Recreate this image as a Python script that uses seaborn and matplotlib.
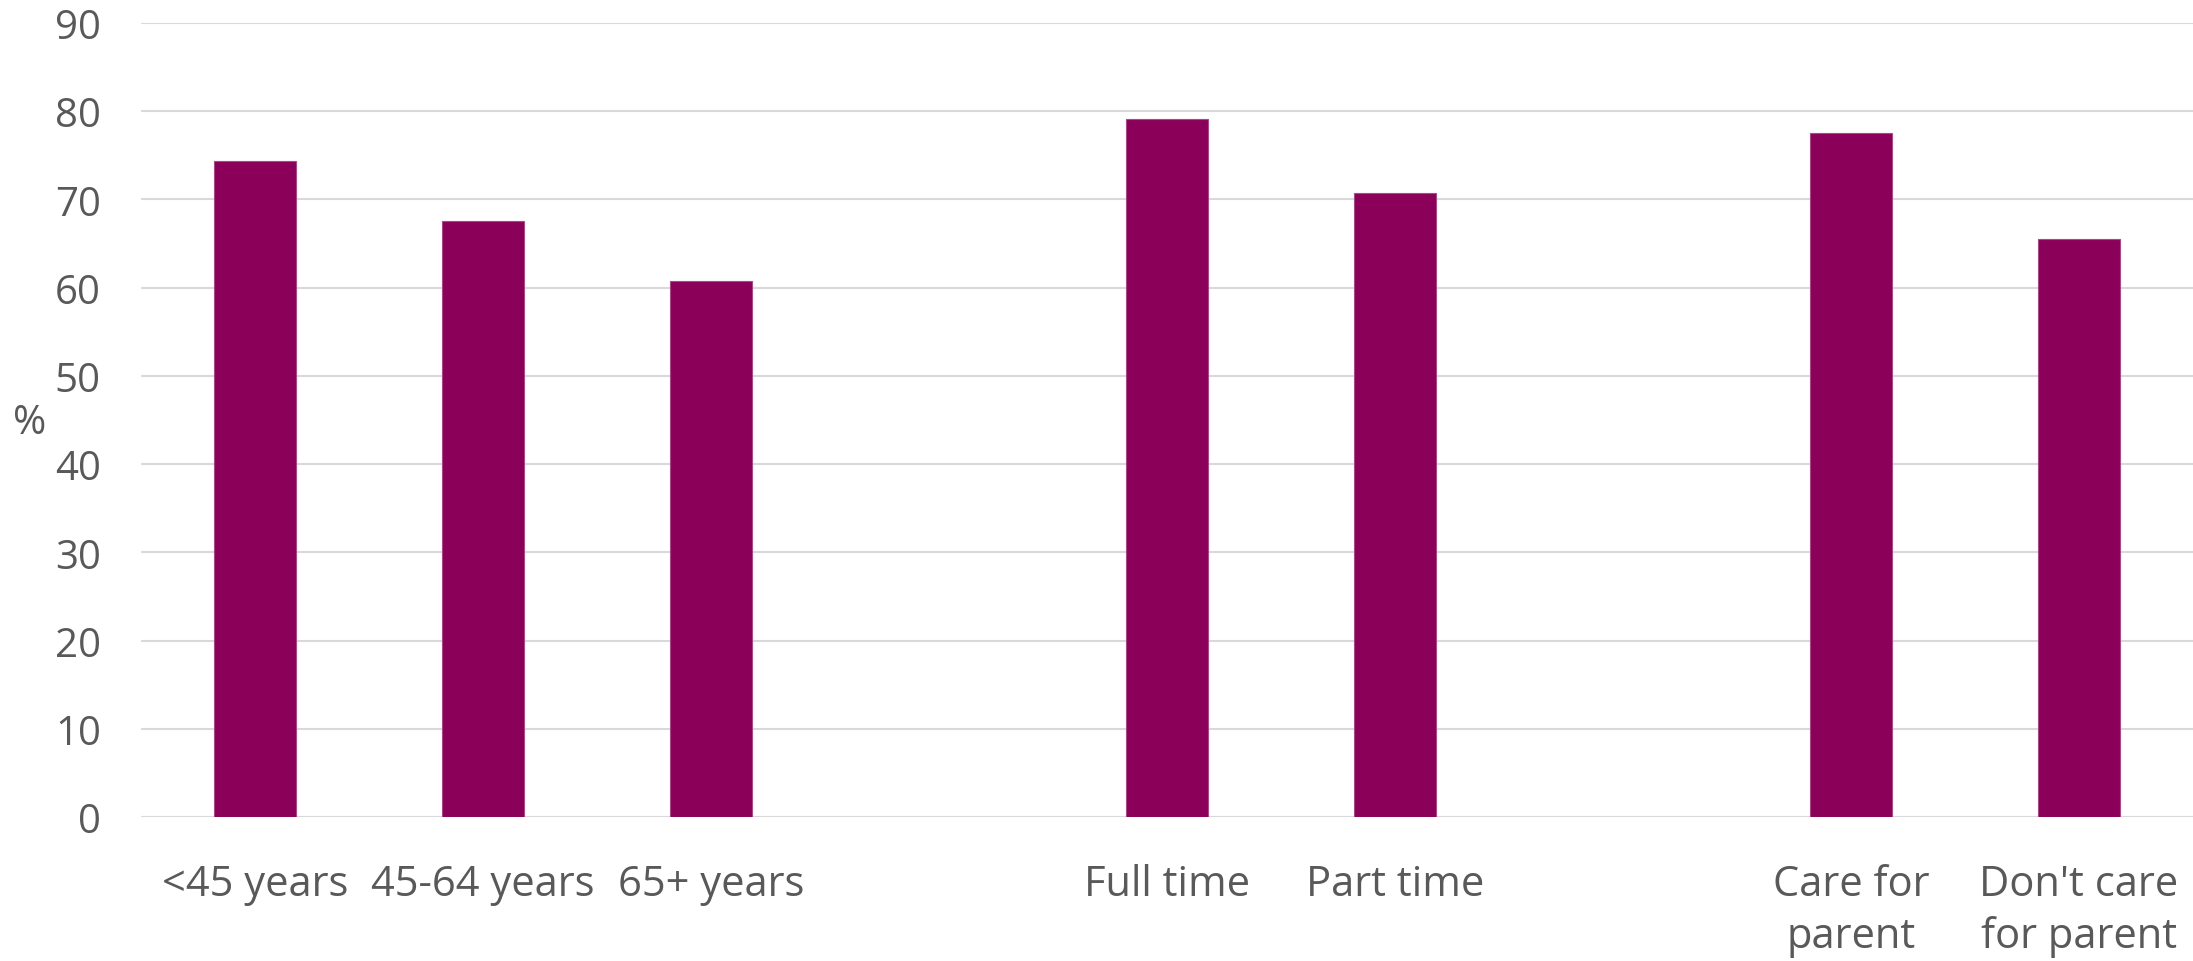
import matplotlib
matplotlib.use("Agg")
import matplotlib.pyplot as plt
import seaborn as sns
import pandas as pd

# Share (%) by respondent group
categories = ["<45 years", "45-64 years", "65+ years",
              "Full time", "Part time",
              "Care for\nparent", "Don't care\nfor parent"]
values = [74.4, 67.6, 60.8, 79.1, 70.7, 77.5, 65.5]

# Slot order, with blank slots separating the three groups
order = ["<45 years", "45-64 years", "65+ years", " ",
         "Full time", "Part time", "  ",
         "Care for\nparent", "Don't care\nfor parent"]
y_ticks = list(range(0, 91, 10))

df = pd.DataFrame({"group": categories, "pct": values})

sns.set_theme(style="white")
plt.rcParams["font.family"] = ["Open Sans", "DejaVu Sans"]

fig = plt.figure(figsize=(21.93, 9.62), dpi=100)
ax = fig.add_axes([141 / 2193, 1 - 818 / 962, 1 - 141 / 2193, (818 - 24) / 962])

bar_color = "#8B0059"
sns.barplot(data=df, x="group", y="pct", order=order, color=bar_color,
            width=0.356, saturation=1, edgecolor="#A8478A", linewidth=0.8, ax=ax)

ax.set_ylim(0, 90)
ax.set_xlim(-0.5, len(order) - 0.5)
ax.set_yticks(y_ticks)
ax.yaxis.grid(True, color="#D9D9D9", linewidth=1.5)
ax.set_axisbelow(True)
for side in ["top", "right", "left", "bottom"]:
    ax.spines[side].set_visible(False)
ax.axhline(0, color="#D9D9D9", linewidth=1.5, zorder=0)

text_color = "#595959"
ax.tick_params(axis="y", length=0, pad=29, labelsize=29, labelcolor=text_color)
ax.tick_params(axis="x", length=0, pad=33, labelsize=30, labelcolor=text_color)
for lbl in ax.get_xticklabels():
    lbl.set_linespacing(1.33)
    lbl.set_verticalalignment("top")

ax.set_xlabel("")
ax.set_ylabel("%", rotation=0, fontsize=29, color=text_color, labelpad=0,
              va="center", ha="center")
ax.yaxis.set_label_coords(-0.0545, 0.497)

fig.savefig("out.png", dpi=100)
